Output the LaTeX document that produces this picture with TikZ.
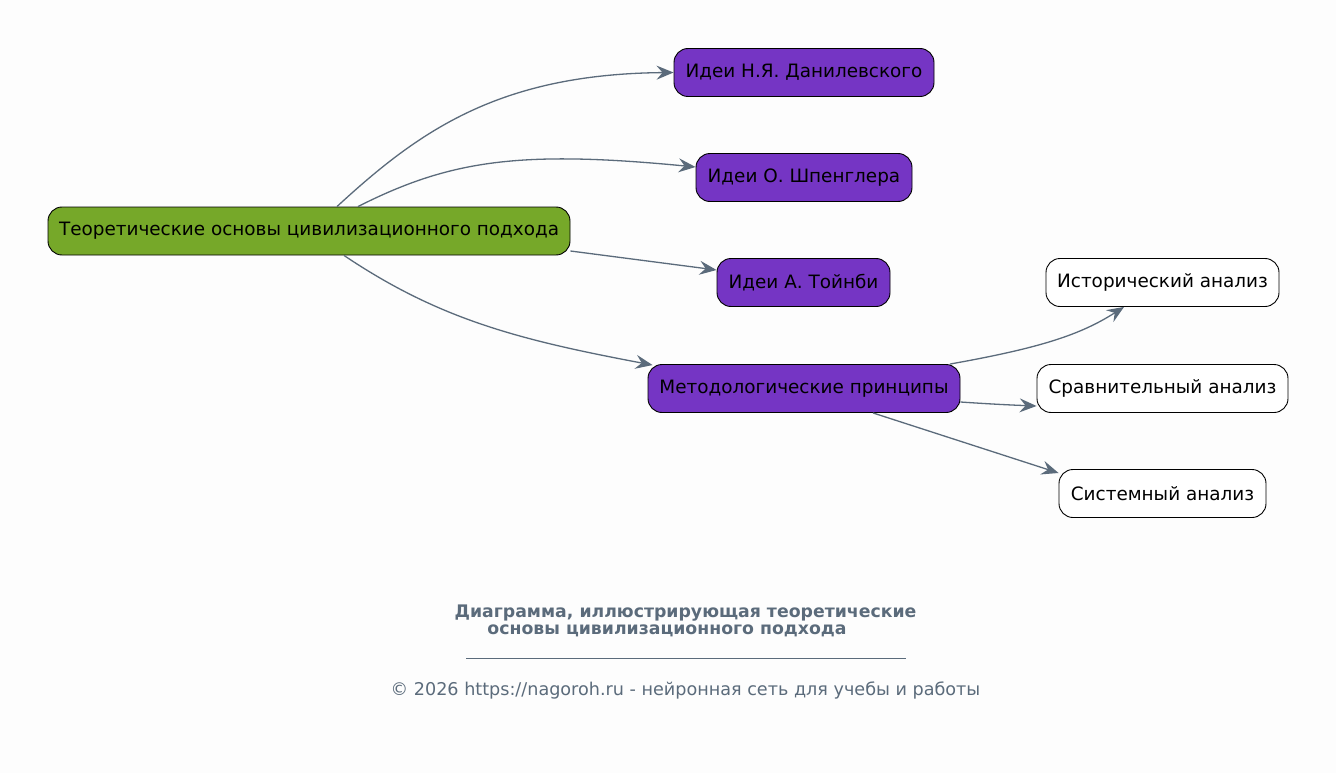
\documentclass[tikz,border=0pt]{standalone}
\usepackage{fontspec}
\setmainfont{DejaVu Sans}
\usetikzlibrary{arrows.meta}
\definecolor{bg}{HTML}{FDFDFD}
\definecolor{rootgreen}{HTML}{76A829}
\definecolor{purp}{HTML}{7535C4}
\definecolor{edge}{HTML}{5B6B7B}
\tikzset{
  box/.style={draw=black, line width=0.9pt, rounded corners=14pt, minimum height=48pt, inner sep=0pt, font=\fontsize{18.4}{22}\selectfont, text=black},
  rootbox/.style={box, fill=rootgreen},
  ideabox/.style={box, fill=purp},
  leafbox/.style={box, fill=white},
  conn/.style={draw=edge, line width=1.3pt, -{Stealth[length=17pt, width=14pt, inset=6pt]}},
  caption/.style={text=edge, font=\fontsize{17.3}{20}\selectfont\bfseries},
  foot/.style={text=edge, font=\fontsize{17.6}{21}\selectfont},
}
\begin{document}
\begin{tikzpicture}[x=1pt, y=-1pt]
\fill[bg] (0,0) rectangle (1336,773);
\useasboundingbox (0,0) rectangle (1336,773);

\node[rootbox, minimum width=522pt] (root) at (309,231) {Теоретические основы цивилизационного подхода};
\node[ideabox, minimum width=260pt] (dan) at (804,72.5) {Идеи Н.Я. Данилевского};
\node[ideabox, minimum width=216pt] (spe) at (804,177.5) {Идеи О. Шпенглера};
\node[ideabox, minimum width=173pt] (toy) at (803.5,282.5) {Идеи А. Тойнби};
\node[ideabox, minimum width=312pt] (met) at (804,388.5) {Методологические принципы};
\node[leafbox, minimum width=233pt] (his) at (1162.5,282.5) {Исторический анализ};
\node[leafbox, minimum width=251pt] (cmp) at (1162.5,388.5) {Сравнительный анализ};
\node[leafbox, minimum width=207pt] (sys) at (1162.5,493.5) {Системный анализ};

\draw[conn] (root.north -| 337,0) .. controls (420,130) and (500,74) .. (dan.west);
\draw[conn] (root.north -| 358,0) .. controls (450,160) and (520,150) .. (spe.west |- 0,167);
\draw[conn] (root.east |- 0,251) -- (toy.west |- 0,270);
\draw[conn] (root.south -| 344,0) .. controls (440,320) and (520,340) .. ([xshift=5pt,yshift=-1pt]met.north west);
\draw[conn] (met.north -| 950,0) .. controls (1040,348) and (1080,335) .. (his.south -| 1124,0);
\draw[conn] (met.east |- 0,402) .. controls (990,404) and (1010,405) .. (cmp.west |- 0,406);
\draw[conn] (met.south -| 873,0) -- (sys.west |- 0,473);

\node[caption] (cap1) at (685.5,613) {Диаграмма, иллюстрирующая теоретические};
\node[caption] (cap2) at (667,631) {основы цивилизационного подхода};
\draw[edge, line width=0.6pt] (466,658) -- (906,658);
\node[foot] (ft) at (685.5,690) {© 2026 https://nagoroh.ru - нейронная сеть для учебы и работы};
\end{tikzpicture}
\end{document}
